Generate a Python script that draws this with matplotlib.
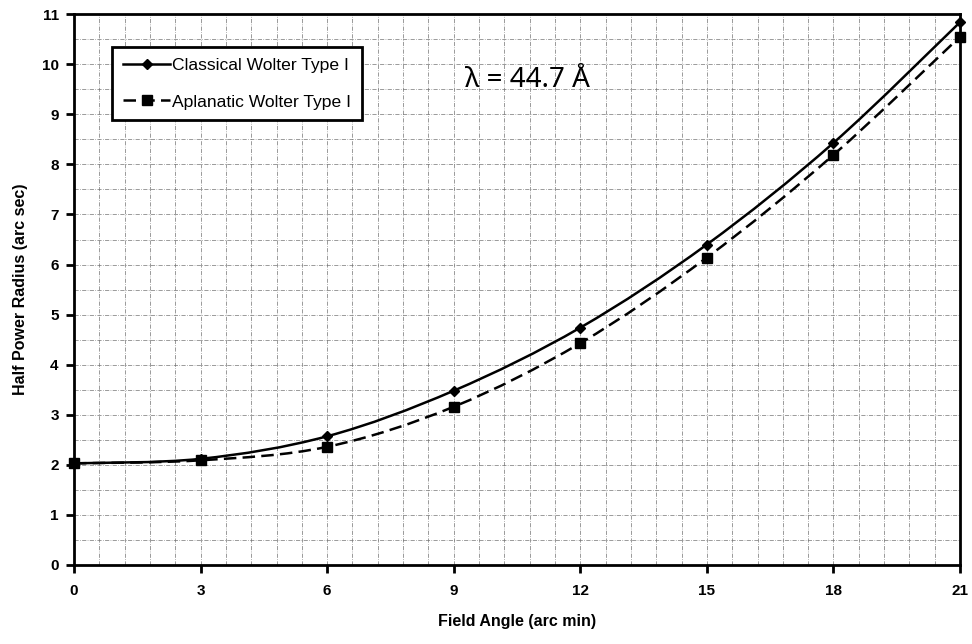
import matplotlib
matplotlib.use('Agg')
import matplotlib.pyplot as plt
from matplotlib.ticker import MultipleLocator
from matplotlib.path import Path
from matplotlib.patches import PathPatch
from matplotlib.lines import Line2D

plt.rcParams['font.family'] = ['Liberation Sans', 'DejaVu Sans']

# 数据
field_angle = [0, 3, 6, 9, 12, 15, 18, 21]
classical = [2.03, 2.12, 2.57, 3.48, 4.74, 6.40, 8.43, 10.84]
aplanatic = [2.03, 2.09, 2.36, 3.16, 4.43, 6.14, 8.19, 10.55]
labels = ['Classical Wolter Type I', 'Aplanatic Wolter Type I']


def smooth_path(xs, ys, t=1 / 6):
    # 类似Excel的平滑线: 每段用三次贝塞尔曲线连接
    verts = [(xs[0], ys[0])]
    codes = [Path.MOVETO]
    n = len(xs)
    for i in range(n - 1):
        x0, y0 = xs[max(i - 1, 0)], ys[max(i - 1, 0)]
        x1, y1 = xs[i], ys[i]
        x2, y2 = xs[i + 1], ys[i + 1]
        x3, y3 = xs[min(i + 2, n - 1)], ys[min(i + 2, n - 1)]
        c1 = (x1 + (x2 - x0) * t, y1 + (y2 - y0) * t)
        c2 = (x2 - (x3 - x1) * t, y2 - (y3 - y1) * t)
        verts += [c1, c2, (x2, y2)]
        codes += [Path.CURVE4] * 3
    return Path(verts, codes)


fig = plt.figure(figsize=(9.72, 6.44), dpi=100)
ax = fig.add_axes([0.0761, 0.1227, 0.9116, 0.8553])

lw = 1.8
dash = (0, (5, 2.5))
ax.add_patch(PathPatch(smooth_path(field_angle, classical), fill=False,
                       edgecolor='black', linewidth=lw, zorder=3))
ax.add_patch(PathPatch(smooth_path(field_angle, aplanatic), fill=False,
                       edgecolor='black', linewidth=lw, linestyle=dash, zorder=3))
ax.plot(field_angle, classical, linestyle='none', color='black',
        marker='D', markersize=5.5, zorder=4, clip_on=False)
ax.plot(field_angle, aplanatic, linestyle='none', color='black',
        marker='s', markersize=6.5, zorder=4, clip_on=False)

ax.set_xlim(0, 21)
ax.set_ylim(0, 11)
ax.xaxis.set_major_locator(MultipleLocator(3))
ax.xaxis.set_minor_locator(MultipleLocator(0.6))
ax.yaxis.set_major_locator(MultipleLocator(1))
ax.yaxis.set_minor_locator(MultipleLocator(0.5))

# 网格
ax.grid(True, which='both', color='0.45', linewidth=0.5,
        linestyle=(0, (6, 2, 1, 2)), zorder=0)

for s in ax.spines.values():
    s.set_linewidth(2)
ax.tick_params(which='major', direction='out', length=6, width=2,
               labelsize=11)
ax.tick_params(which='minor', length=0)
ax.tick_params(axis='x', pad=8)
ax.tick_params(axis='y', pad=5)
for lab in ax.get_xticklabels() + ax.get_yticklabels():
    lab.set_fontweight('bold')

ax.set_xlabel('Field Angle (arc min)', fontsize=11.5, fontweight='bold', labelpad=11)
ax.set_ylabel('Half Power Radius (arc sec)', fontsize=11.5, fontweight='bold', labelpad=10)

handles = [
    Line2D([], [], color='black', linewidth=lw, marker='D', markersize=5.5),
    Line2D([], [], color='black', linewidth=lw, linestyle=dash, marker='s', markersize=6.5),
]
leg = ax.legend(handles, labels, loc='upper left', bbox_to_anchor=(0.043, 0.940),
                borderaxespad=0, fancybox=False, edgecolor='black', framealpha=1,
                fontsize=12.6, handlelength=2.7, handletextpad=0.1, borderpad=0.62,
                labelspacing=1.2)
leg.get_frame().set_linewidth(2)

ax.text(10.74, 9.68, 'λ = 44.7 \u00c5', fontsize=20, ha='center', va='center',
        family=['Noto Sans', 'DejaVu Sans'])

plt.savefig('out.png', dpi=100)
plt.close()
